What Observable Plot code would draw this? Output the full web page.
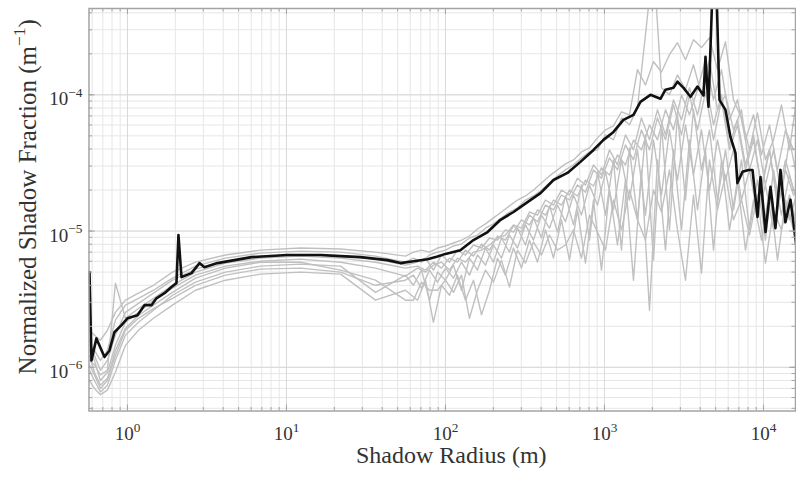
<!DOCTYPE html>
<html><head><meta charset="utf-8">
<script src="https://cdn.jsdelivr.net/npm/d3@7"></script>
<script src="https://cdn.jsdelivr.net/npm/@observablehq/plot@0.6"></script>
<style>
body{margin:0;background:#fff;}
#chart svg{display:block;}
#chart svg text, #chart svg tspan{font-family:"Liberation Serif","Times New Roman",serif !important;}
</style></head><body><div id="chart"></div>
<script>
// ---- data (radius in m, shadow fraction in units of 1e-6 m^-1) ----
const smoothRadius = [0.577, 0.620, 0.676, 0.748, 0.840, 0.971, 1.173, 1.457, 1.919, 2.679, 4.13, 6.86, 12.25, 21.9, 36.3, 56.0];
const radiusA = [62.9, 70.7, 79.3, 89.1, 100, 112.3, 126.1, 141.5, 159.0, 178.5, 200.4, 225.0, 252.6, 283.7, 318.5, 357.7, 401.6, 451.0, 506.3, 568.5, 638.3, 716.7, 804.9, 903.7, 1015, 1139, 1279, 1436, 1612, 1811, 2033, 2283, 2563, 2878, 3232, 3629, 4075, 4576, 5137, 5768, 6477, 7272, 8166, 9170, 10290, 11560, 12980, 14570, 16130];
const radiusB = [66.7, 74.9, 84.0, 94.4, 106.0, 119.0, 133.6, 150.0, 168.5, 189.2, 212.4, 238.4, 267.7, 300.6, 337.5, 379.1, 425.6, 477.9, 536.5, 602.4, 676.4, 759.5, 852.9, 957.6, 1075, 1207, 1355, 1522, 1708, 1919, 2154, 2419, 2716, 3050, 3425, 3846, 4318, 4849, 5444, 6113, 6864, 7706, 8653, 9717, 10910, 12250, 13760, 15440];

const blackRadius = [0.577, 0.594, 0.638, 0.717, 0.771, 0.828, 0.917, 1.0, 1.156, 1.279, 1.416, 1.521, 1.709, 1.891, 2.033, 2.093, 2.187, 2.528, 2.838, 3.05, 3.68, 4.71, 6.03, 10.1, 16.4, 21.9, 29.2, 43.2, 52.1, 62.9, 77.1, 89.1, 100, 124, 150, 184, 222, 268, 328, 396, 478, 585, 706, 853, 986, 1140, 1316, 1522, 1683, 1946, 2249, 2419, 2716, 2877, 3141, 3475, 3846, 4198, 4318, 4510, 4779, 5062, 5287, 5768, 6198, 6666, 6855, 7379, 8054, 8531, 9170, 9580, 10300, 11070, 11890, 12790, 13740, 14790, 16130];
const blackFraction = [5.0, 1.125, 1.63, 1.19, 1.33, 1.81, 2.04, 2.29, 2.41, 2.86, 2.86, 3.21, 3.50, 3.88, 4.15, 9.35, 4.59, 4.91, 5.82, 5.43, 5.82, 6.12, 6.44, 6.67, 6.67, 6.55, 6.44, 6.12, 5.82, 6.01, 6.22, 6.5, 6.8, 7.24, 8.59, 9.84, 12.1, 13.8, 16.3, 19.0, 23.7, 26.7, 32.2, 39.4, 46.7, 53.4, 65.5, 71.3, 88.8, 100, 93.5, 109, 112.5, 125, 112.5, 96.7, 115, 99, 190, 81.7, 600, 600, 91.9, 77.6, 49.1, 37.5, 22.5, 27.2, 28.1, 28.1, 12.7, 24.9, 9.84, 21.1, 10.5, 28.1, 11.6, 17, 7.63];

// gray series: 1,2,4,6,9 on smoothRadius+radiusA ; 3,5,7,8 on smoothRadius+radiusB
const gray1 = [1.87, 1.72, 1.58, 1.87, 2.53, 3.11, 3.50, 4.0, 5.0, 5.91, 6.67, 7.25, 7.51, 7.39, 7.01, 6.55,
  7.01, 7.25, 7.01, 7.51, 7.77, 8.17, 8.59, 9.2, 10.35, 11.3, 12.5, 13.8, 15.3, 16.9, 18.1, 20.0, 22.5, 25.4, 28.1, 31.1, 33.3, 38.1, 40.8, 48.3, 55.3, 59.2, 75.0, 71.3, 153, 118, 175, 147, 197, 241, 181, 254, 222, 262, 153, 245, 91.9, 67.7, 39.4, 73.7, 33.3, 46.7, 84.4, 39.4, 91.9];
const gray2 = [1.45, 1.33, 1.125, 1.33, 2.22, 2.86, 3.21, 3.68, 4.51, 5.53, 6.33, 6.89, 7.13, 7.01, 6.55, 5.91,
  6.33, 5.91, 6.67, 7.01, 7.25, 7.77, 8.03, 8.89, 9.35, 10.5, 11.3, 12.5, 13.8, 14.8, 16.9, 18.1, 20.0, 22.5, 25.4, 28.1, 30.6, 34.4, 38.1, 39.4, 50.8, 46.7, 67.7, 60.2, 80.3, 276, 983, 112.6, 100, 140, 109, 166, 100, 181, 77.6, 100, 55.3, 77.6, 28.1, 46.7, 21.8, 39.4, 18.4, 46.7, 25.8];
const gray3 = [1.125, 1.04, 0.88, 0.95, 4.15, 2.29, 2.7, 3.21, 4.0, 5.0, 5.82, 6.33, 6.55, 6.33, 5.91, 5.35,
  5.53, 5.17, 5.91, 5.35, 6.33, 5.91, 7.25, 6.55, 8.03, 7.25, 9.2, 8.59, 10.9, 9.84, 13.1, 11.7, 15.5, 14.3, 18.4, 16.9, 21.8, 19.3, 28.1, 24.4, 34.4, 28.1, 42.9, 33.3, 55.3, 39.4, 67.7, 46.7, 84.4, 50.8, 100, 55.3, 105, 46.7, 91.9, 39.4, 60.2, 28.1, 46.7, 21.8, 39.4, 16.9, 33.3, 20.0];
const gray4 = [0.95, 0.80, 0.66, 0.74, 1.125, 1.72, 2.14, 2.62, 3.38, 4.22, 5.0, 5.53, 5.72, 5.53, 3.55, 4.75,
  4.0, 5.17, 3.11, 5.0, 4.36, 5.62, 3.68, 6.33, 5.17, 7.51, 5.91, 8.89, 7.01, 10.5, 7.9, 12.5, 8.89, 15.3, 9.84, 18.1, 11.1, 21.8, 8.59, 27.2, 13.1, 33.3, 7.25, 40.8, 12.1, 50.8, 6.12, 60.2, 10.2, 71.3, 16.9, 77.6, 28.1, 55.3, 16.9, 39.4, 14.3, 33.3, 10.2, 23.7, 8.59, 28.1, 13.1, 25.8, 16.9];
const gray5 = [0.80, 0.70, 0.63, 0.68, 0.92, 1.45, 1.87, 2.29, 2.86, 3.68, 4.36, 4.83, 5.0, 4.83, 3.11, 3.68,
  3.11, 4.36, 2.14, 4.0, 3.38, 4.75, 3.11, 4.36, 2.43, 3.68, 6.33, 4.75, 7.51, 5.35, 8.59, 5.91, 10.2, 6.33, 12.1, 6.12, 14.3, 5.82, 16.9, 5.17, 20.0, 7.9, 23.7, 4.36, 28.1, 2.62, 33.3, 7.25, 39.4, 10.2, 46.7, 14.3, 39.4, 7.25, 33.3, 10.2, 23.7, 7.25, 16.9, 8.59, 20.0, 6.12, 16.9, 10.2];
const gray6 = [1.22, 0.92, 0.74, 0.83, 1.33, 1.93, 2.4, 2.86, 3.55, 4.51, 5.35, 5.91, 5.91, 5.17, 4.36, 3.11,
  3.11, 4.22, 3.68, 3.68, 4.36, 3.55, 4.75, 2.29, 3.68, 5.17, 4.22, 6.12, 3.88, 7.25, 5.82, 8.31, 6.67, 9.35, 7.25, 7.9, 10.2, 6.33, 13.1, 9.84, 7.25, 16.9, 10.2, 20.0, 12.1, 8.59, 20.0, 13.8, 28.1, 10.2, 4.36, 18.4, 4.91, 33.3, 14.3, 25.8, 12.1, 16.9, 9.35, 18.4, 5.82, 14.3, 10.2, 18.4, 11.1];
const gray7 = [1.58, 1.22, 0.95, 1.125, 1.72, 2.53, 2.95, 3.50, 4.36, 5.26, 6.01, 6.55, 6.67, 6.55, 6.22, 5.62,
  5.91, 6.33, 5.17, 6.67, 5.91, 7.25, 6.67, 7.9, 7.51, 8.89, 8.59, 10.2, 9.84, 12.1, 11.1, 14.3, 13.1, 16.9, 15.5, 20.0, 18.1, 23.7, 21.4, 29.1, 25.8, 36.2, 30.6, 46.7, 39.4, 60.2, 46.7, 77.6, 55.3, 100, 71.3, 109, 181, 91.9, 153, 65.5, 91.9, 46.7, 71.3, 36.2, 60.2, 28.1, 55.3, 39.4];
const gray8 = [1.33, 1.125, 0.80, 0.92, 1.45, 2.14, 2.53, 3.11, 3.81, 4.75, 5.53, 6.01, 6.22, 5.91, 5.35, 4.67,
  5.35, 5.0, 5.62, 5.91, 5.17, 6.33, 5.91, 7.01, 7.25, 7.9, 8.89, 9.35, 11.1, 10.5, 13.8, 13.1, 16.9, 15.5, 20.0, 18.4, 24.4, 21.8, 30.6, 25.8, 39.4, 30.6, 50.8, 39.4, 67.7, 46.7, 77.6, 50.8, 91.9, 65.5, 112.6, 71.3, 129, 60.2, 100, 42.9, 65.5, 30.6, 50.8, 20.0, 39.4, 15.5, 28.1, 18.4];
const gray9 = [1.04, 0.88, 0.70, 0.80, 1.22, 1.87, 2.29, 2.7, 3.21, 4.0, 4.75, 5.26, 5.35, 5.0, 4.0, 4.36,
  4.75, 3.81, 5.17, 4.22, 5.35, 4.51, 5.91, 4.75, 6.67, 5.62, 7.9, 6.33, 9.35, 7.51, 11.1, 8.59, 13.1, 10.5, 15.5, 11.7, 18.4, 13.1, 21.8, 15.5, 27.2, 14.3, 33.3, 16.9, 39.4, 13.1, 46.7, 18.4, 55.3, 23.7, 60.2, 25.8, 55.3, 20.0, 46.7, 23.7, 39.4, 16.9, 28.1, 13.1, 21.8, 10.2, 20.0, 12.1, 18.4];

const xTickValues = [1, 10, 100, 1000, 10000];
const xTickLabels = ["10^{0}", "10^{1}", "10^{2}", "10^{3}", "10^{4}"];
const yTickValues = [1e-6, 1e-5, 1e-4];
const yTickLabels = ["10^{\u22126}", "10^{\u22125}", "10^{\u22124}"];
const xTitle = "Shadow Radius (m)";
const yTitle = "Normalized Shadow Fraction (m^{\u22121})";
const UNIT = 1e-6;

// ---- build tables ----
const gridA = smoothRadius.concat(radiusA);
const gridB = smoothRadius.concat(radiusB);
const graySeries = [[gridA, gray1], [gridA, gray2], [gridB, gray3], [gridA, gray4], [gridB, gray5], [gridA, gray6], [gridB, gray7], [gridB, gray8], [gridA, gray9]];
const grayRows = graySeries.flatMap(([xs, ys], k) =>
  ys.slice(0, xs.length).map((v, j) => ({series: k, r: xs[j], f: v * UNIT})));
const blackRows = blackRadius.map((r, i) => ({r, f: blackFraction[i] * UNIT}));

const W = 796, H = 479, mL = 88.5, mR = 1, mT = 8, mB = 68.5;
const innerW = W - mL - mR, innerH = H - mT - mB;
const xDomain = [0.573, 15900];
const yDomain = [4.78e-7, 4.3e-4];
const xAll = d3.scaleLog().domain(xDomain).ticks().filter(d => d >= xDomain[0] && d <= xDomain[1]);
const yAll = d3.scaleLog().domain(yDomain).ticks().filter(d => d >= yDomain[0] && d <= yDomain[1]);
const FONT = '"Liberation Serif", "Times New Roman", serif';
const axisColor = "#a4a4a4";
const textColor = "#333";

const chart = Plot.plot({
  width: W, height: H,
  marginLeft: mL, marginRight: mR, marginTop: mT, marginBottom: mB,
  style: {background: "#fff"},
  x: {type: "log", domain: xDomain, axis: null},
  y: {type: "log", domain: yDomain, axis: null},
  marks: [
    Plot.ruleX(xAll, {stroke: "#e6e6e6", strokeWidth: 1}),
    Plot.ruleY(yAll, {stroke: "#e6e6e6", strokeWidth: 1}),
    Plot.ruleX(xTickValues, {stroke: "#dadada", strokeWidth: 1}),
    Plot.ruleY(yTickValues, {stroke: "#dadada", strokeWidth: 1}),
    Plot.line(grayRows, {x: "r", y: "f", z: "series", stroke: "#c0c0c0", strokeWidth: 1.4, clip: true}),
    Plot.line(blackRows, {x: "r", y: "f", stroke: "#111", strokeWidth: 2.6, clip: true}),
    // inward ticks on all four sides
    Plot.ruleX(xAll, {stroke: axisColor, insetTop: innerH - 3.5}),
    Plot.ruleX(xAll, {stroke: axisColor, insetBottom: innerH - 3.5}),
    Plot.ruleX(xTickValues, {stroke: axisColor, insetTop: innerH - 6}),
    Plot.ruleX(xTickValues, {stroke: axisColor, insetBottom: innerH - 6}),
    Plot.ruleY(yAll, {stroke: axisColor, insetRight: innerW - 3.5}),
    Plot.ruleY(yAll, {stroke: axisColor, insetLeft: innerW - 3.5}),
    Plot.ruleY(yTickValues, {stroke: axisColor, insetRight: innerW - 6}),
    Plot.ruleY(yTickValues, {stroke: axisColor, insetLeft: innerW - 6}),
    Plot.frame({stroke: axisColor, strokeWidth: 1.5}),
    Plot.text(xTickValues, {x: d => d, text: (d, i) => xTickLabels[i], frameAnchor: "bottom", textAnchor: "middle", lineAnchor: "middle", dy: 23, fontSize: 19, fontFamily: FONT, fill: textColor}),
    Plot.text(yTickValues, {y: d => d, text: (d, i) => yTickLabels[i], frameAnchor: "left", textAnchor: "end", lineAnchor: "middle", dx: -6.5, dy: 4.5, fontSize: 19, fontFamily: FONT, fill: textColor}),
    Plot.text([xTitle], {text: d => d, frameAnchor: "bottom", textAnchor: "middle", lineAnchor: "middle", dx: 9, dy: 44.5, fontSize: 24, fontFamily: FONT, fill: textColor}),
    Plot.text([yTitle], {text: d => d, frameAnchor: "left", textAnchor: "middle", lineAnchor: "middle", rotate: -90, dx: -61, dy: -13, fontSize: 25, fontFamily: FONT, fill: textColor})
  ]
});

// render "^{...}" as superscripts and force the serif face
const NS = "http://www.w3.org/2000/svg";
chart.querySelectorAll("text").forEach(el => {
  el.setAttribute("font-family", FONT);
  el.style.fontFamily = FONT;
  const s = el.textContent;
  if (!s.includes("^{")) return;
  const g = el.parentNode;
  const fs = parseFloat(el.getAttribute("font-size") || (g && g.getAttribute && g.getAttribute("font-size")) || 19);
  const shift = fs * 0.45;
  const parts = s.split(/\^\{([^}]*)\}/);
  while (el.firstChild) el.removeChild(el.firstChild);
  let raised = false;
  parts.forEach((p, i) => {
    if (!p) return;
    const t = document.createElementNS(NS, "tspan");
    t.textContent = p;
    if (i % 2 === 1) { t.setAttribute("font-size", fs * 0.7); t.setAttribute("dy", -shift); raised = true; }
    else if (raised) { t.setAttribute("dy", shift); raised = false; }
    el.appendChild(t);
  });
});
document.getElementById("chart").appendChild(chart);
</script></body></html>
